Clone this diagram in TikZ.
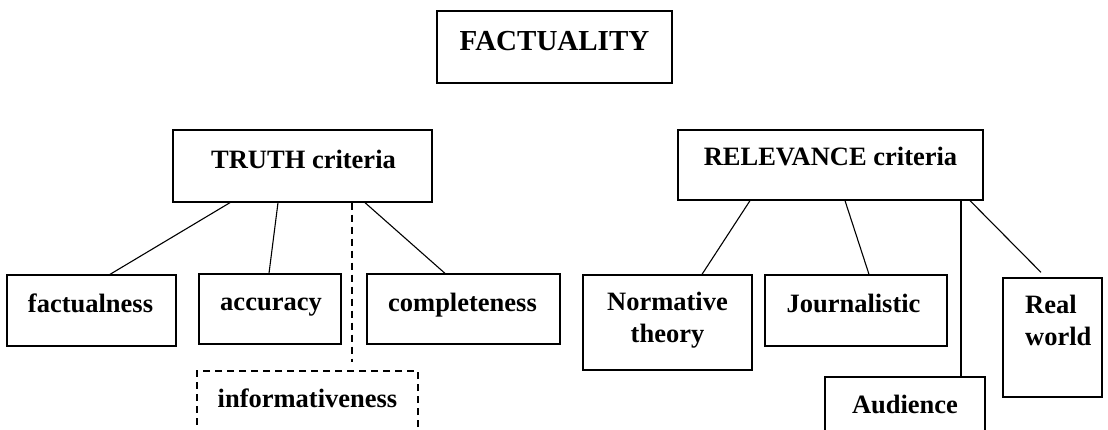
\documentclass[tikz,border=0pt]{standalone}
\usepackage{fontspec}
\setmainfont{Liberation Serif}
\begin{document}
\begin{tikzpicture}[x=1pt,y=-1pt,
  box/.style={draw=black,line width=1.3pt,rectangle,inner sep=0pt},
  dbox/.style={box,dash pattern=on 7pt off 5pt},
  lbl/.style={inner sep=0pt,anchor=base,font=\bfseries\fontsize{26.5}{32}\selectfont},
  ttl/.style={lbl,font=\bfseries\fontsize{29}{34}\selectfont},
  link/.style={draw=black,line width=1.1pt},
  dlink/.style={link,dash pattern=on 7pt off 5pt}]
\useasboundingbox (0,0) rectangle (1108,429);
\clip (0,0) rectangle (1108,429);

% top level
\node[box,minimum width=235pt,minimum height=72pt] (fact) at (554.5,47) {};
\node[ttl] (facttxt) at (554.5,50) {FACTUALITY};

% truth branch
\node[box,minimum width=259pt,minimum height=72pt] (truth) at (302.5,166) {};
\node[lbl] (truthtxt) at (303.5,168) {TRUTH criteria};

\node[box,minimum width=169pt,minimum height=71pt] (factual) at (91.5,310.5) {};
\node[lbl] (factualtxt) at (90.5,312) {factualness};

\node[box,minimum width=142pt,minimum height=70pt] (accur) at (270,309) {};
\node[lbl] (accurtxt) at (271,310) {accuracy};

\node[box,minimum width=193pt,minimum height=70pt] (compl) at (463.5,309) {};
\node[lbl] (compltxt) at (462.5,311) {completeness};

\node[dbox,minimum width=221pt,minimum height=99pt] (inform) at (307.5,420.5) {};
\node[lbl] (informtxt) at (307.5,407) {informativeness};

% relevance branch
\node[box,minimum width=305pt,minimum height=70pt] (relev) at (830.5,165) {};
\node[lbl] (relevtxt) at (830.5,165) {RELEVANCE criteria};

\node[box,minimum width=169pt,minimum height=95pt] (norm) at (667.5,322.5) {};
\node[lbl] (normtxt1) at (667.5,310) {Normative};
\node[lbl] (normtxt2) at (667.5,342) {theory};

\node[box,minimum width=182pt,minimum height=71pt] (journ) at (856,310.5) {};
\node[lbl] (journtxt) at (853.5,312) {Journalistic};

\node[box,minimum width=160pt,minimum height=93pt] (aud) at (905,423.5) {};
\node[lbl] (audtxt) at (905,413) {Audience};

\node[box,minimum width=99pt,minimum height=119pt] (real) at (1052.5,337.5) {};
\node[lbl,anchor=base west] (realtxt1) at (1025,313) {Real};
\node[lbl,anchor=base west] (realtxt2) at (1025,345) {world};

% connectors of the truth branch
\path[link] ([xshift=-72.5pt]truth.south) -- ([xshift=18.5pt]factual.north);
\path[link] ([xshift=-24.5pt]truth.south) -- ([xshift=-1pt]accur.north);
\path[link] ([xshift=62.5pt]truth.south) -- ([xshift=-18.5pt]compl.north);
\path[dlink] ([xshift=49.5pt]truth.south) -- ([xshift=44.5pt,yshift=8pt]inform.north);

% connectors of the relevance branch
\path[link] ([xshift=-80.5pt]relev.south) -- ([xshift=34.5pt]norm.north);
\path[link] ([xshift=14.5pt]relev.south) -- ([xshift=13pt]journ.north);
\path[link] ([xshift=130.5pt]relev.south) -- ([xshift=56pt]aud.north);
\path[link] ([xshift=139.5pt]relev.south) -- ([xshift=-11.5pt,yshift=5pt]real.north);
\end{tikzpicture}
\end{document}
